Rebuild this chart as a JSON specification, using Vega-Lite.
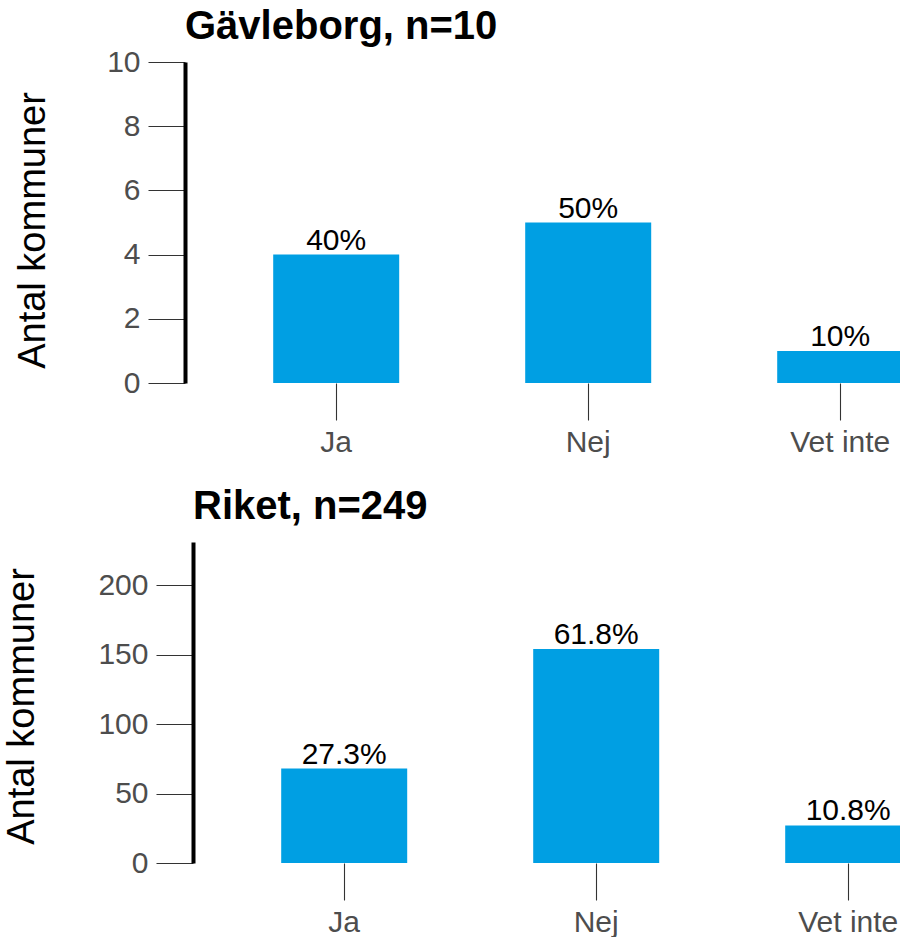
{
  "$schema": "https://vega.github.io/schema/vega-lite/v6.json",
  "padding": {"left": 2, "top": 7, "right": 0, "bottom": 0},
  "bounds": "flush",
  "spacing": 159,
  "config": {
    "view": {"stroke": null},
    "font": "Liberation Sans",
    "axis": {"grid": false, "labelFont": "Liberation Sans", "titleFont": "Liberation Sans"}
  },
  "data": {
    "values": [
      {"region": "Gävleborg", "svar": "Ja", "antal": 4, "etikett": "40%"},
      {"region": "Gävleborg", "svar": "Nej", "antal": 5, "etikett": "50%"},
      {"region": "Gävleborg", "svar": "Vet inte", "antal": 1, "etikett": "10%"},
      {"region": "Riket", "svar": "Ja", "antal": 68, "etikett": "27.3%"},
      {"region": "Riket", "svar": "Nej", "antal": 154, "etikett": "61.8%"},
      {"region": "Riket", "svar": "Vet inte", "antal": 27, "etikett": "10.8%"}
    ]
  },
  "vconcat": [
    {
      "title": {"text": "Gävleborg, n=10", "anchor": "start", "frame": "group", "fontSize": 40, "fontWeight": "bold", "baseline": "alphabetic", "offset": -32, "color": "#000000", "font": "Liberation Sans"},
      "width": 716,
      "height": 321,
      "transform": [{"filter": "datum.region === 'Gävleborg'"}],
      "encoding": {
        "x": {
          "field": "svar", "type": "nominal", "sort": ["Ja", "Nej", "Vet inte"],
          "scale": {"range": [0, 806.4], "paddingInner": 0.5, "paddingOuter": 0.35},
          "axis": {"title": null, "domain": false, "tickSize": 37, "tickColor": "#333333", "tickWidth": 1.1, "labelFontSize": 30, "labelColor": "#4d4d4d", "labelPadding": 7, "labelAngle": 0}
        }
      },
      "layer": [
        {
          "mark": {"type": "bar", "color": "#009fe3", "clip": true},
          "encoding": {
            "y": {
              "field": "antal", "type": "quantitative",
              "scale": {"domain": [0, 10], "nice": false, "zero": true},
              "axis": {"title": "Antal kommuner", "titleFontSize": 38, "titleFontWeight": "normal", "titleColor": "#000000", "titleAngle": -90, "titleBaseline": "alphabetic", "titleAlign": "center", "titleX": -141, "titleY": 168, "values": [0, 2, 4, 6, 8, 10], "tickSize": 37, "tickColor": "#333333", "tickWidth": 1.1, "labelFontSize": 30, "labelColor": "#4d4d4d", "labelPadding": 8, "domainColor": "#000000", "domainWidth": 4}
            }
          }
        },
        {
          "mark": {"type": "text", "dy": -5, "baseline": "alphabetic", "fontSize": 30, "color": "#000000"},
          "encoding": {
            "y": {"field": "antal", "type": "quantitative"},
            "text": {"field": "etikett"}
          }
        }
      ]
    },
    {
      "title": {"text": "Riket, n=249", "anchor": "start", "frame": "group", "fontSize": 40, "fontWeight": "bold", "baseline": "alphabetic", "offset": -17, "dx": 8, "color": "#000000", "font": "Liberation Sans"},
      "width": 716,
      "height": 321,
      "transform": [{"filter": "datum.region === 'Riket'"}],
      "encoding": {
        "x": {
          "field": "svar", "type": "nominal", "sort": ["Ja", "Nej", "Vet inte"],
          "scale": {"range": [8, 814.4], "paddingInner": 0.5, "paddingOuter": 0.35},
          "axis": {"title": null, "domain": false, "tickSize": 37, "tickColor": "#333333", "tickWidth": 1.1, "labelFontSize": 30, "labelColor": "#4d4d4d", "labelPadding": 7, "labelAngle": 0}
        }
      },
      "layer": [
        {
          "mark": {"type": "bar", "color": "#009fe3", "clip": true},
          "encoding": {
            "y": {
              "field": "antal", "type": "quantitative",
              "scale": {"domain": [0, 231], "nice": false, "zero": true},
              "axis": {"title": "Antal kommuner", "offset": -8, "titleFontSize": 38, "titleFontWeight": "normal", "titleColor": "#000000", "titleAngle": -90, "titleBaseline": "alphabetic", "titleAlign": "center", "titleX": -160, "titleY": 164, "values": [0, 50, 100, 150, 200], "tickSize": 37, "tickColor": "#333333", "tickWidth": 1.1, "labelFontSize": 30, "labelColor": "#4d4d4d", "labelPadding": 8, "domainColor": "#000000", "domainWidth": 4}
            }
          }
        },
        {
          "mark": {"type": "text", "dy": -5, "baseline": "alphabetic", "fontSize": 30, "color": "#000000"},
          "encoding": {
            "y": {"field": "antal", "type": "quantitative"},
            "text": {"field": "etikett"}
          }
        }
      ]
    }
  ]
}
